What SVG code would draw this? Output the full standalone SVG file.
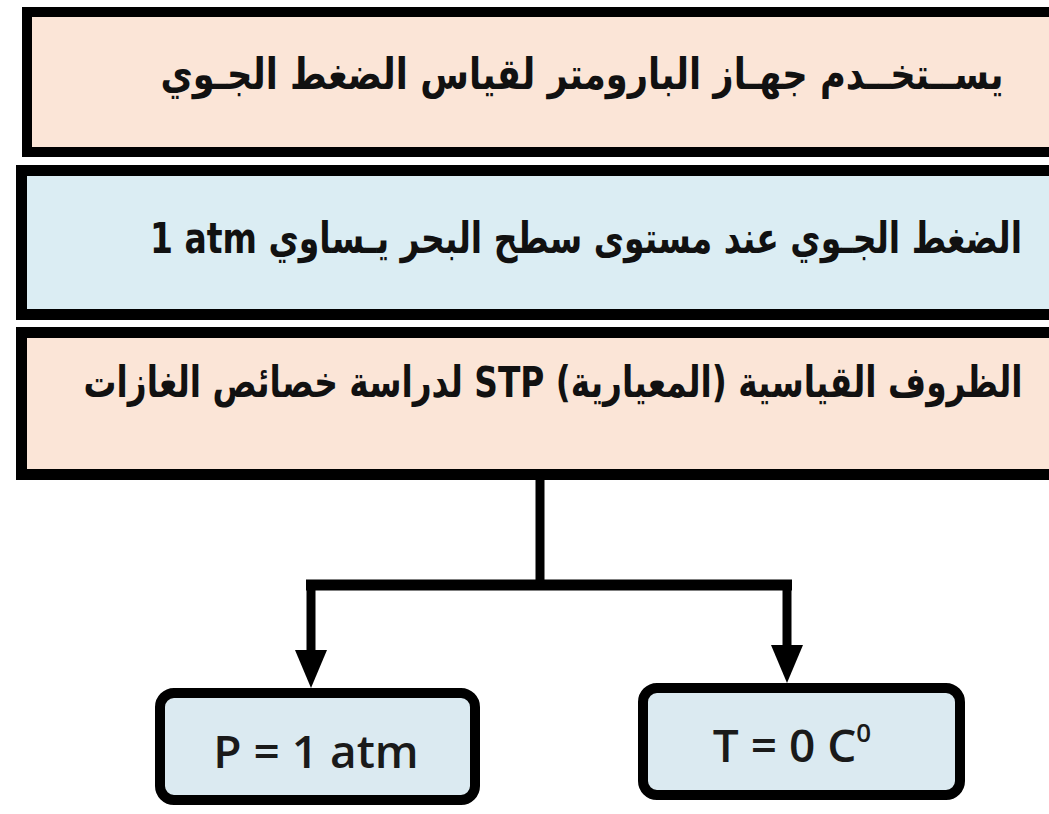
<svg xmlns="http://www.w3.org/2000/svg" width="1049" height="814" viewBox="0 0 1049 814">
  <style>
    .band { stroke: #000; stroke-width: 11; }
    .peach { fill: #fbe5d7; }
    .blue { fill: #dbedf3; }
    .ar { font-family: "DejaVu Sans", sans-serif; font-weight: bold; font-size: 33px; fill: #111; direction: rtl; unicode-bidi: embed; }
    .leaf { fill: #dbeaf1; stroke: #000; stroke-width: 10; }
    .lt { font-family: "Open Sans", "Liberation Sans", sans-serif; font-weight: 600; font-size: 46px; fill: #1a1a1a; }
    .conn { fill: none; stroke: #000; stroke-width: 9; }
  </style>
  <defs>
    <marker id="arrow" viewBox="0 0 38 32" refX="0" refY="16" markerWidth="38" markerHeight="32" markerUnits="userSpaceOnUse" orient="auto">
      <path d="M0,0 L38,16 L0,32 z" fill="#000"/>
    </marker>
  </defs>
  <rect width="1049" height="814" fill="#fff"/>

  <g id="node-barometer">
    <rect class="band peach" x="27" y="12" width="1040" height="140" style="stroke-width:10"/>
    <g transform="translate(582,89) scale(1,1.3)">
      <text class="ar" x="0" y="0" text-anchor="middle" textLength="843" lengthAdjust="spacingAndGlyphs">يســتخــدم جهـاز البارومتر لقياس الضغط الجـوي</text>
    </g>
  </g>

  <g id="node-sealevel">
    <rect class="band blue" x="21.5" y="170.5" width="1045" height="144"/>
    <g transform="translate(586,253) scale(1,1.3)">
      <text class="ar" x="0" y="0" text-anchor="middle" textLength="872" lengthAdjust="spacingAndGlyphs">الضغط الجـوي عند مستوى سطح البحر يـساوي &#x200E;1 atm</text>
    </g>
  </g>

  <g id="node-stp">
    <rect class="band peach" x="21.5" y="332.5" width="1045" height="142"/>
    <g transform="translate(553,397) scale(1,1.3)">
      <text class="ar" x="0" y="0" text-anchor="middle" textLength="939" lengthAdjust="spacingAndGlyphs">الظروف القياسية (المعيارية)  STP لدراسة خصائص الغازات</text>
    </g>
  </g>

  <g id="connectors">
    <path class="conn" d="M540,478 V585"/>
    <path class="conn" d="M306,585 H792" style="stroke-width:11"/>
    <path class="conn" d="M311,580 V650" marker-end="url(#arrow)"/>
    <path class="conn" d="M787,580 V645" marker-end="url(#arrow)"/>
  </g>

  <g id="node-pressure">
    <rect class="leaf" x="160" y="693" width="315" height="107" rx="14"/>
    <text class="lt" x="316" y="768" text-anchor="middle">P = 1 atm</text>
  </g>

  <g id="node-temperature">
    <rect class="leaf" x="643" y="688" width="317" height="107" rx="14"/>
    <text class="lt" x="792" y="762" text-anchor="middle">T = 0 C<tspan font-size="26" dy="-20">0</tspan></text>
  </g>
</svg>
